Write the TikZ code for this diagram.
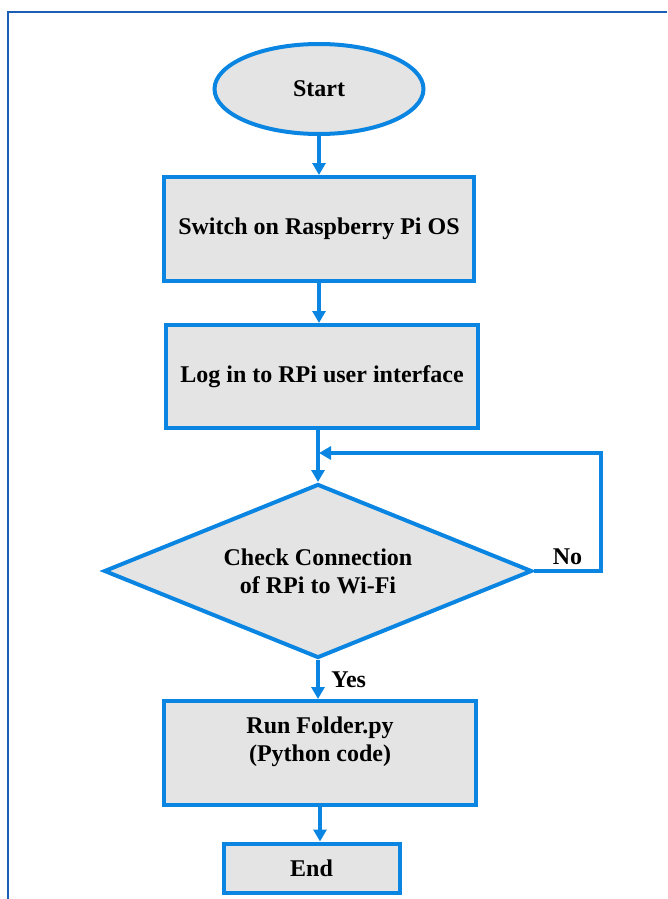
\documentclass[tikz,border=0pt]{standalone}
\usepackage{fontspec}
\setmainfont{Liberation Serif}
\usetikzlibrary{positioning, arrows.meta, calc, shapes.geometric}
\definecolor{flowblue}{HTML}{0A86E2}
\definecolor{boxgray}{HTML}{E4E4E4}
\definecolor{framecolor}{HTML}{1A5FB4}

\begin{document}
\begin{tikzpicture}[x=1pt, y=-1pt,
    every node/.style={font=\fontsize{24}{28}\selectfont\bfseries, text=black},
    flowline/.style={draw=flowblue, line width=4pt, fill=boxgray},
    procbox/.style={flowline, rectangle, minimum width=310pt, minimum height=104pt, align=center},
    flowarrow/.style={draw=flowblue, line width=4pt, -{Triangle[width=13pt, length=12pt]}}]
  \useasboundingbox (0,0) rectangle (667,899);
  % outer frame
  \draw[framecolor, line width=2pt] (8,899) -- (8,12) -- (667,12);

  % flow steps
  \node[flowline, ellipse, minimum width=209pt, minimum height=90pt, inner sep=0pt] (start) at (319,89) {Start};
  \node[procbox] (swon) at (319,229) {Switch on Raspberry Pi OS};
  \node[procbox, minimum width=312pt, minimum height=103pt] (login) at (322,376.5) {Log in to RPi user interface};
  \node[flowline, diamond, aspect=2.45, minimum width=428pt, minimum height=174pt, inner sep=0pt, align=center] (check) at (318,571) {Check Connection\\of RPi to Wi-Fi};
  \node[procbox, minimum width=312pt] (runpy) at (320,753) {Run Folder.py\\(Python code)\\\mbox{}};
  \node[procbox, minimum width=176pt, minimum height=49pt] (stop) at (311.5,868) {End};
  \coordinate (merge) at (319,453);

  % connectors
  \draw[flowarrow] (start.south) -- (swon.north);
  \draw[flowarrow] (swon.south) -- (swon.south |- login.north);
  \draw[flowarrow] (check.north |- login.south) -- (check.north);
  \draw[flowarrow] (check.east) -- node[above=1pt] {No} ++(67,0) |- (merge);
  \draw[flowarrow] (check.south) -- node[right=8pt] {Yes} (check.south |- runpy.north);
  \draw[flowarrow] (runpy.south) -- (runpy.south |- stop.north);
\end{tikzpicture}
\end{document}
